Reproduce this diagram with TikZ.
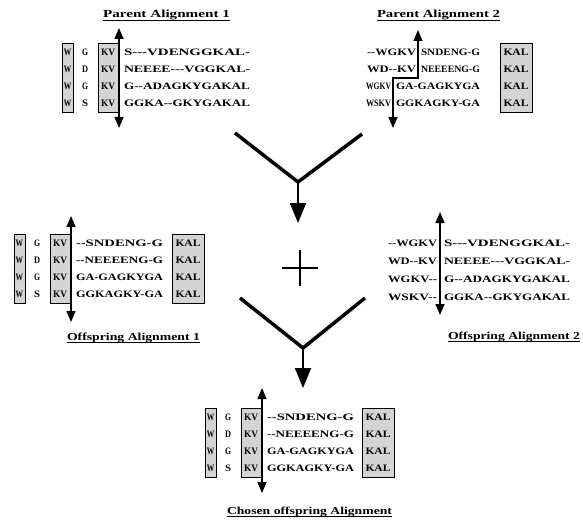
\documentclass[tikz,border=0pt]{standalone}
\usepackage{fontspec}
\setmainfont{Liberation Serif}
\newfontfamily\seqfont{Liberation Serif}[Ligatures=TeXOff]
\usepackage{graphicx}
\usetikzlibrary{arrows.meta,calc}

% residue strings and headings squeezed to a fixed width
\newcommand\seqtxt[2]{\resizebox{#1pt}{6.5pt}{\seqfont\bfseries #2}}
\newcommand\ttltxt[2]{\resizebox{#1pt}{7.5pt}{\seqfont\bfseries #2}}

% W / G,D,G,S / KV columns of a four-row block
% #1 name prefix, #2 left x, #3 first row y
\newcommand\leftcols[3]{%
  \node[gbox, minimum width=11pt, minimum height=69pt, anchor=north west] (#1-wbox) at (#2,#3-9) {};
  \node[gbox, minimum width=20pt, minimum height=69pt, anchor=north west] (#1-kbox) at (#2+36,#3-9) {};
  \foreach \m [count=\i from 0] in {G,D,G,S}{
    \node[txt] (#1-w\i) at (#2+5.5,#3+17*\i) {\seqtxt{7.5}{W}};
    \node[txt] (#1-m\i) at (#2+23,#3+17*\i) {\seqtxt{6}{\m}};
    \node[txt] (#1-k\i) at (#2+46,#3+17*\i) {\seqtxt{14}{KV}};
  }%
}

\begin{document}
\begin{tikzpicture}[x=1pt,y=-1pt,
  txt/.style={inner sep=0pt, outer sep=0pt},
  gbox/.style={draw=black, line width=1.1pt, fill=black!17, inner sep=0pt},
  cutboth/.style={line width=1.5pt,
    {Triangle[width=9pt,length=11pt]}-{Triangle[width=9pt,length=11pt]}},
  vee/.style={line width=3.5pt, line join=miter},
  stem/.style={line width=2pt, -{Triangle[width=16pt,length=20pt]}},
  heading/.style={txt, anchor=base west},
  uline/.style={line width=1pt}
]
\useasboundingbox (0,0) rectangle (583,524);
\fill[white] (0,0) rectangle (583,524);

% ---------- Parent Alignment 1 ----------
\node[heading] (t-p1) at (103,18) {\ttltxt{127}{Parent Alignment 1}};
\draw[uline] ($(t-p1.base west)+(0,2.5)$) -- ($(t-p1.base east)+(0,2.5)$);
\leftcols{p1}{62}{52}
\node[txt, anchor=west] (p1-r0) at (124,52)  {\seqtxt{126}{S---VDENGGKAL-}};
\node[txt, anchor=west] (p1-r1) at (124,69)  {\seqtxt{126}{NEEEE---VGGKAL-}};
\node[txt, anchor=west] (p1-r2) at (124,86)  {\seqtxt{126}{G--ADAGKYGAKAL}};
\node[txt, anchor=west] (p1-r3) at (124,103) {\seqtxt{126}{GGKA--GKYGAKAL}};
\coordinate (p1-top) at (119,28);
\coordinate (p1-bot) at (119,128);
\draw[cutboth] (p1-top) -- (p1-bot);

% ---------- Parent Alignment 2 ----------
\node[heading] (t-p2) at (377,18) {\ttltxt{123}{Parent Alignment 2}};
\draw[uline] ($(t-p2.base west)+(0,2.5)$) -- ($(t-p2.base east)+(0,2.5)$);
\node[txt, anchor=east] (p2-l0) at (416,52)  {\seqtxt{49}{--WGKV}};
\node[txt, anchor=east] (p2-l1) at (416,69)  {\seqtxt{49}{WD--KV}};
\node[txt, anchor=east] (p2-l2) at (391,86)  {\seqtxt{25}{WGKV}};
\node[txt, anchor=east] (p2-l3) at (391,103) {\seqtxt{25}{WSKV}};
\node[txt, anchor=west] (p2-r0) at (421,52)  {\seqtxt{59}{SNDENG-G}};
\node[txt, anchor=west] (p2-r1) at (421,69)  {\seqtxt{59}{NEEEENG-G}};
\node[txt, anchor=west] (p2-r2) at (396,86)  {\seqtxt{84}{GA-GAGKYGA}};
\node[txt, anchor=west] (p2-r3) at (396,103) {\seqtxt{84}{GGKAGKY-GA}};
\node[gbox, minimum width=32pt, minimum height=69pt, anchor=north west] (p2-kal) at (500,43) {};
\foreach \i in {0,...,3}{
  \node[txt] (p2-kal\i) at (516,52+17*\i) {\seqtxt{25}{KAL}};
}
\coordinate (p2-top) at (418,30);
\coordinate (p2-k1) at (418,78);
\coordinate (p2-k2) at (393,78);
\coordinate (p2-bot) at (393,128);
\draw[cutboth] (p2-top) -- (p2-k1) -- (p2-k2) -- (p2-bot);

% ---------- crossover ----------
\coordinate (v1l) at (235,133);
\coordinate (v1c) at (298,182);
\coordinate (v1r) at (362,134);
\coordinate (v1tip) at (298,223);
\draw[vee] (v1l) -- (v1c) -- (v1r);
\draw[stem] (v1c) -- (v1tip);

\coordinate (plus-l) at (282,268);
\coordinate (plus-r) at (318,268);
\coordinate (plus-t) at (300,250);
\coordinate (plus-b) at (300,286);
\draw[line width=1.5pt] (plus-l) -- (plus-r) (plus-t) -- (plus-b);

\coordinate (v2l) at (240,298);
\coordinate (v2c) at (303,348);
\coordinate (v2r) at (365,298);
\coordinate (v2tip) at (303,388);
\draw[vee] (v2l) -- (v2c) -- (v2r);
\draw[stem] (v2c) -- (v2tip);

% ---------- Offspring Alignment 1 ----------
\leftcols{o1}{14}{243}
\node[txt, anchor=west] (o1-r0) at (76,243) {\seqtxt{87}{--SNDENG-G}};
\node[txt, anchor=west] (o1-r1) at (76,260) {\seqtxt{87}{--NEEEENG-G}};
\node[txt, anchor=west] (o1-r2) at (76,277) {\seqtxt{87}{GA-GAGKYGA}};
\node[txt, anchor=west] (o1-r3) at (76,294) {\seqtxt{87}{GGKAGKY-GA}};
\node[gbox, minimum width=32pt, minimum height=69pt, anchor=north west] (o1-kal) at (172,234) {};
\foreach \i in {0,...,3}{
  \node[txt] (o1-kal\i) at (188,243+17*\i) {\seqtxt{25}{KAL}};
}
\coordinate (o1-top) at (71,216);
\coordinate (o1-bot) at (71,322);
\draw[cutboth] (o1-top) -- (o1-bot);
\node[heading] (t-o1) at (67,340) {\ttltxt{133}{Offspring Alignment 1}};
\draw[uline] ($(t-o1.base west)+(0,2.5)$) -- ($(t-o1.base east)+(0,2.5)$);

% ---------- Offspring Alignment 2 ----------
\node[txt, anchor=east] (o2-l0) at (437,243) {\seqtxt{49}{--WGKV}};
\node[txt, anchor=east] (o2-l1) at (437,261) {\seqtxt{49}{WD--KV}};
\node[txt, anchor=east] (o2-l2) at (437,279) {\seqtxt{49}{WGKV--}};
\node[txt, anchor=east] (o2-l3) at (437,297) {\seqtxt{49}{WSKV--}};
\node[txt, anchor=west] (o2-r0) at (444,243) {\seqtxt{126}{S---VDENGGKAL-}};
\node[txt, anchor=west] (o2-r1) at (444,261) {\seqtxt{126}{NEEEE---VGGKAL-}};
\node[txt, anchor=west] (o2-r2) at (444,279) {\seqtxt{126}{G--ADAGKYGAKAL}};
\node[txt, anchor=west] (o2-r3) at (444,297) {\seqtxt{126}{GGKA--GKYGAKAL}};
\coordinate (o2-top) at (440,212);
\coordinate (o2-bot) at (440,315);
\draw[cutboth] (o2-top) -- (o2-bot);
\node[heading] (t-o2) at (448,339) {\ttltxt{132}{Offspring Alignment 2}};
\draw[uline] ($(t-o2.base west)+(0,2.5)$) -- ($(t-o2.base east)+(0,2.5)$);

% ---------- Chosen offspring Alignment ----------
\leftcols{ch}{205}{417}
\node[txt, anchor=west] (ch-r0) at (267,417) {\seqtxt{87}{--SNDENG-G}};
\node[txt, anchor=west] (ch-r1) at (267,434) {\seqtxt{87}{--NEEEENG-G}};
\node[txt, anchor=west] (ch-r2) at (267,451) {\seqtxt{87}{GA-GAGKYGA}};
\node[txt, anchor=west] (ch-r3) at (267,468) {\seqtxt{87}{GGKAGKY-GA}};
\node[gbox, minimum width=32pt, minimum height=69pt, anchor=north west] (ch-kal) at (362,408) {};
\foreach \i in {0,...,3}{
  \node[txt] (ch-kal\i) at (378,417+17*\i) {\seqtxt{25}{KAL}};
}
\coordinate (ch-top) at (262,388);
\coordinate (ch-bot) at (262,493);
\draw[cutboth] (ch-top) -- (ch-bot);
\node[heading] (t-ch) at (227,514) {\ttltxt{165}{Chosen offspring Alignment}};
\draw[uline] ($(t-ch.base west)+(0,2.5)$) -- ($(t-ch.base east)+(0,2.5)$);
\end{tikzpicture}
\end{document}
